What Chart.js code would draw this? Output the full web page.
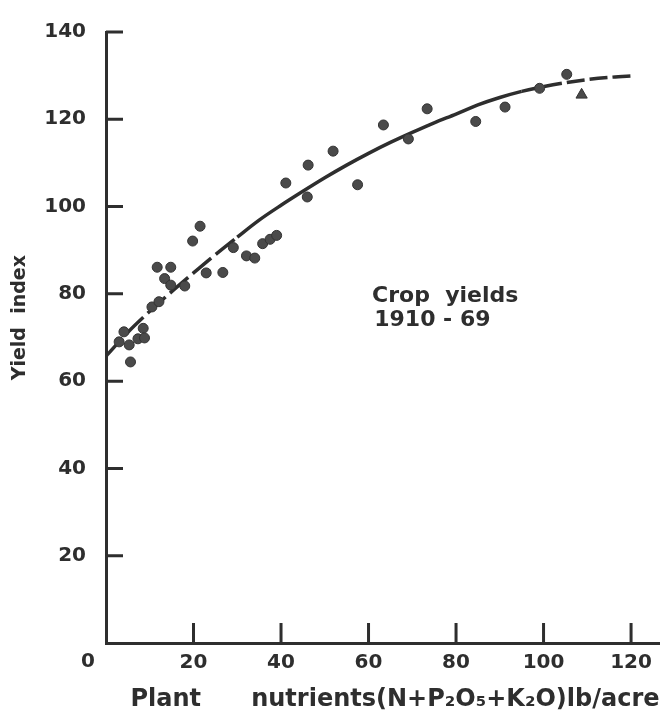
<!DOCTYPE html>
<html>
<head>
<meta charset="utf-8">
<script src="https://cdn.jsdelivr.net/npm/chart.js@4/dist/chart.umd.min.js"></script>
<style>
html, body { margin: 0; padding: 0; background: #fff; }
#chart { display: block; }
</style>
</head>
<body>
<canvas id="chart" width="667" height="719"></canvas>
<script>
const xTicks = [0, 20, 40, 60, 80, 100, 120]
const yTicks = [0, 20, 40, 60, 80, 100, 120, 140]

// yearly points, nutrients (lb/acre) vs yield index
const nutrients = [3.0, 4.1, 5.3, 5.6, 7.3, 8.5, 8.8, 10.5, 12.1, 11.7, 13.4, 14.8, 14.8, 18.0,
    19.8, 21.5, 22.9, 26.7, 29.1, 32.1, 34.0, 35.8, 37.5, 39.0, 41.1, 46.0, 46.2, 51.9,
    57.5, 63.4, 69.1, 73.4, 84.5, 91.2, 99.1, 105.3]
const yields = [69.0, 71.3, 68.3, 64.4, 69.7, 72.1, 69.9, 77.0, 78.2, 86.1, 83.5, 82.0, 86.1, 81.8,
    92.1, 95.5, 84.8, 84.9, 90.6, 88.7, 88.2, 91.5, 92.5, 93.4, 105.4, 102.2, 109.5, 112.7,
    105.0, 118.7, 115.5, 122.4, 119.5, 122.8, 127.1, 130.3]

// the odd one out, drawn as a triangle
const triNutrients = [108.7]
const triYields = [125.6]

// fitted curve
const curveX = [0, 5, 10, 15, 20, 25, 30, 35, 40, 45, 50, 55, 60, 65, 70, 75, 80, 85, 90, 95, 100, 105, 110, 115, 121]
const curveY = [65.7, 71.2, 76.0, 80.5, 84.8, 89.0, 93.0, 96.9, 100.3, 103.5, 106.6, 109.5, 112.2, 114.7,
    117.0, 119.2, 121.2, 123.3, 125.0, 126.4, 127.5, 128.4, 129.1, 129.6, 130.0]

const ink = '#2e2e2e'
const tickFont = { family: 'DejaVu Sans', size: 20, weight: 'bold' }

function toPoints(xs, ys) {
    return xs.map(function(x, i) {
        return { x: x, y: ys[i] }
    })
}

// inner tick marks, the shared corner zero and the note
const extras = {
    id: 'extras',
    afterDraw: function(chart) {
        const ctx = chart.ctx
        const xs = chart.scales.x
        const ys = chart.scales.y
        const area = chart.chartArea
        ctx.save()
        ctx.strokeStyle = ink
        ctx.lineWidth = 3
        ctx.beginPath()
        yTicks.forEach(function(v) {
            if (v === 0) return
            const py = ys.getPixelForValue(v)
            ctx.moveTo(area.left, py)
            ctx.lineTo(area.left + 17, py)
        })
        xTicks.forEach(function(v) {
            if (v === 0) return
            const px = xs.getPixelForValue(v)
            ctx.moveTo(px, area.bottom)
            ctx.lineTo(px, area.bottom - 20)
        })
        ctx.stroke()

        ctx.fillStyle = ink
        ctx.font = 'bold 20px "DejaVu Sans"'
        ctx.textAlign = 'center'
        ctx.textBaseline = 'middle'
        ctx.fillText('0', area.left - 18, area.bottom + 19)

        ctx.font = 'bold 22px "DejaVu Sans"'
        ctx.textAlign = 'left'
        ctx.fillText('Crop  yields', xs.getPixelForValue(60.8), ys.getPixelForValue(79.4))
        ctx.fillText('1910 - 69', xs.getPixelForValue(61.3), ys.getPixelForValue(74))
        ctx.restore()
    }
}

const ctx = document.getElementById('chart').getContext('2d')
new Chart(ctx, {
    type: 'scatter',
    data: {
        datasets: [
            {
                label: 'Yield',
                data: toPoints(nutrients, yields),
                pointRadius: 5,
                backgroundColor: '#4a4a4a',
                borderColor: '#333',
                borderWidth: 1
            },
            {
                label: '1969',
                data: toPoints(triNutrients, triYields),
                pointStyle: 'triangle',
                pointRadius: 6.5,
                backgroundColor: '#4a4a4a',
                borderColor: '#333',
                borderWidth: 1
            },
            {
                type: 'line',
                label: 'Fit',
                data: toPoints(curveX, curveY),
                borderColor: ink,
                borderWidth: 3.5,
                pointRadius: 0,
                fill: false,
                cubicInterpolationMode: 'monotone',
                segment: {
                    borderDash: function(c) {
                        const x = c.p0.parsed.x
                        if (x < 28) return [24, 6]
                        if (x >= 95) return [18, 5]
                        return undefined
                    }
                }
            }
        ]
    },
    options: {
        responsive: false,
        animation: false,
        devicePixelRatio: 1,
        layout: { padding: { top: 20, right: 0, left: 0, bottom: 0 } },
        plugins: {
            legend: { display: false },
            tooltip: { enabled: false }
        },
        scales: {
            x: {
                type: 'linear',
                min: 0,
                max: 126.5,
                afterBuildTicks: function(scale) {
                    scale.ticks = xTicks.map(function(v) { return { value: v } })
                },
                afterFit: function(scale) { scale.height = 76 },
                grid: { display: false, drawTicks: false },
                border: { color: ink, width: 3 },
                ticks: {
                    color: ink,
                    font: tickFont,
                    padding: 8,
                    maxRotation: 0,
                    callback: function(v) { return v === 0 ? '' : v }
                },
                title: {
                    display: true,
                    text: 'Plant      nutrients(N+P\u2082O\u2085+K\u2082O)lb/acre',
                    align: 'end',
                    color: ink,
                    font: { family: 'DejaVu Sans', size: 24, weight: 'bold' },
                    padding: { top: 0, bottom: 5 }
                }
            },
            y: {
                type: 'linear',
                min: 0,
                max: 140,
                afterBuildTicks: function(scale) {
                    scale.ticks = yTicks.map(function(v) { return { value: v } })
                },
                afterFit: function(scale) { scale.width = 106 },
                grid: { display: false, drawTicks: false },
                border: { color: ink, width: 3 },
                ticks: {
                    color: ink,
                    font: tickFont,
                    padding: 20,
                    callback: function(v) { return v === 0 ? '' : v }
                },
                title: {
                    display: true,
                    text: '      Yield  index',
                    color: ink,
                    font: { family: 'DejaVu Sans', size: 19, weight: 'bold' },
                    padding: { top: 9, bottom: 0 }
                }
            }
        }
    },
    plugins: [extras]
})
</script>
</body>
</html>
